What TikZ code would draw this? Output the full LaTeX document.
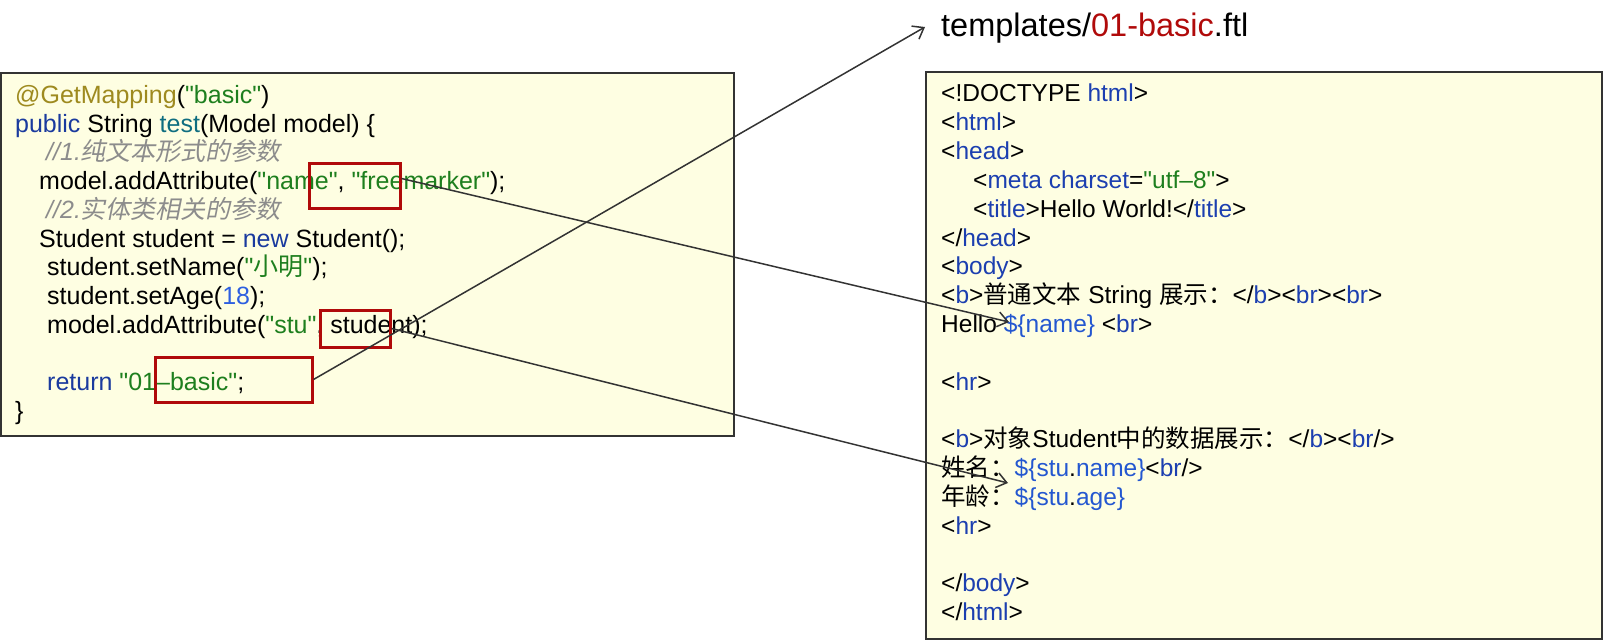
\documentclass[tikz,border=0pt]{standalone}
\usepackage{fontspec}
\setmainfont{Liberation Sans}[Ligatures=TeXOff]
\newfontfamily\cjk{Noto Sans CJK SC}
\newfontfamily\cjkit[FakeSlant=0.2]{Noto Sans CJK SC}
\usepackage{xcolor}
\usetikzlibrary{arrows.meta, positioning}
\definecolor{annogold}{HTML}{9E8A1F}
\definecolor{strgreen}{HTML}{1E7F1E}
\definecolor{kwblue}{HTML}{1A3A9E}
\definecolor{mthteal}{HTML}{0F6E80}
\definecolor{numblue}{HTML}{2D5FE0}
\definecolor{cmtgray}{HTML}{8C8C8C}
\definecolor{tagblue}{HTML}{1C3FB0}
\definecolor{varblue}{HTML}{2457D0}
\definecolor{markred}{HTML}{B00A0A}
\definecolor{paneyellow}{HTML}{FEFEE2}
\definecolor{inkgray}{HTML}{333333}
\newcommand{\ann}[1]{\textcolor{annogold}{#1}}
\newcommand{\jstr}[1]{\textcolor{strgreen}{#1}}
\newcommand{\kw}[1]{\textcolor{kwblue}{#1}}
\newcommand{\mth}[1]{\textcolor{mthteal}{#1}}
\newcommand{\jnum}[1]{\textcolor{numblue}{#1}}
\newcommand{\jcmt}[1]{{\color{cmtgray}\itshape #1}}
\newcommand{\htag}[1]{\textcolor{tagblue}{#1}}
\newcommand{\fvar}[1]{\textcolor{varblue}{#1}}
\tikzset{
  codebox/.style={draw=inkgray, line width=2.5pt, fill=paneyellow},
  javaline/.style={anchor=base west, inner sep=0pt, font=\fontsize{25}{28.75}\selectfont},
  ftlline/.style={anchor=base west, inner sep=0pt, font=\fontsize{24.5}{28.75}\selectfont},
  hilite/.style={draw=markred, line width=3pt, inner sep=0pt},
  link/.style={draw=inkgray, line width=1.5pt, -{Straight Barb[length=10pt, width=15pt]}}
}

\begin{document}
\begin{tikzpicture}[x=1pt, y=-1pt]
  \useasboundingbox (0,0) rectangle (1604,642);
  % the two panes
  \draw[codebox] (1,73) rectangle (734,436);
  \draw[codebox] (926,72) rectangle (1602,639);

  % controller code
  \node[javaline] (j1) at (15,103) {\ann{@GetMapping}(\jstr{"basic"})};
  \node[javaline] (j2) at (15,132) {\kw{public} String \mth{test}(Model model) \{};
  \node[javaline] (j3) at (46,160) {\jcmt{//1.{\cjkit 纯文本形式的参数}}};
  \node[javaline] (j4) at (39,189) {model.addAttribute(\jstr{"name"}, \jstr{"freemarker"});};
  \node[javaline] (j5) at (46,218) {\jcmt{//2.{\cjkit 实体类相关的参数}}};
  \node[javaline] (j6) at (39,247) {Student student = \kw{new} Student();};
  \node[javaline] (j7) at (47,275) {student.setName(\jstr{"{\cjk 小明}"});};
  \node[javaline] (j8) at (47,304) {student.setAge(\jnum{18});};
  \node[javaline] (j9) at (47,333) {model.addAttribute(\jstr{"stu"}, student);};
  \node[javaline] (j11) at (47,390) {\kw{return} \jstr{"01–basic"};};
  \node[javaline] (j12) at (15,419) {\}};

  % template file
  \node[anchor=base west, inner sep=0pt, font=\fontsize{32.5}{36}\selectfont] (fname) at (941,37)
    {templates/\textcolor{markred}{01-basic}.ftl};
  \node[ftlline] (f1) at (941,102) {<!DOCTYPE \htag{html}>};
  \node[ftlline] (f2) at (941,130.8) {<\htag{html}>};
  \node[ftlline] (f3) at (941,159.6) {<\htag{head}>};
  \node[ftlline] (f4) at (973,188.4) {<\htag{meta} \htag{charset}=\jstr{"utf–8"}>};
  \node[ftlline] (f5) at (973,217.2) {<\htag{title}>Hello World!</\htag{title}>};
  \node[ftlline] (f6) at (941,246) {</\htag{head}>};
  \node[ftlline] (f7) at (941,274.8) {<\htag{body}>};
  \node[ftlline] (f8) at (941,303.6) {<\htag{b}>{\cjk 普通文本} String {\cjk 展示：}</\htag{b}><\htag{br}><\htag{br}>};
  \node[ftlline] (f9) at (941,332.4) {Hello \fvar{\$\{name\}} <\htag{br}>};
  \node[ftlline] (f11) at (941,390) {<\htag{hr}>};
  \node[ftlline] (f13) at (941,447.6) {<\htag{b}>{\cjk 对象}Student{\cjk 中的数据展示：}</\htag{b}><\htag{br}/>};
  \node[ftlline] (f14) at (941,476.4) {{\cjk 姓名：}\fvar{\$\{stu}.\fvar{name\}}<\htag{br}/>};
  \node[ftlline] (f15) at (941,505.2) {{\cjk 年龄：}\fvar{\$\{stu}.\fvar{age\}}};
  \node[ftlline] (f16) at (941,534) {<\htag{hr}>};
  \node[ftlline] (f18) at (941,591.6) {</\htag{body}>};
  \node[ftlline] (f19) at (941,620.4) {</\htag{html}>};

  % highlighted spots
  \node[hilite, minimum width=91pt, minimum height=45pt] (markname) at (354.5,185.5) {};
  \node[hilite, minimum width=70pt, minimum height=37pt] (markstu) at (355,328.5) {};
  \node[hilite, minimum width=157pt, minimum height=45pt] (markview) at (233.5,379.5) {};

  \coordinate (namevar) at (1009,322);
  \coordinate (stuvar) at (1008,483);
  \coordinate (viewfile) at (925,27);

  \draw[link] ([yshift=7pt]markname.east) -- (namevar);
  \draw[link] (markstu.east) -- (stuvar);
  \draw[link] (markview.east) -- (viewfile);
\end{tikzpicture}
\end{document}
